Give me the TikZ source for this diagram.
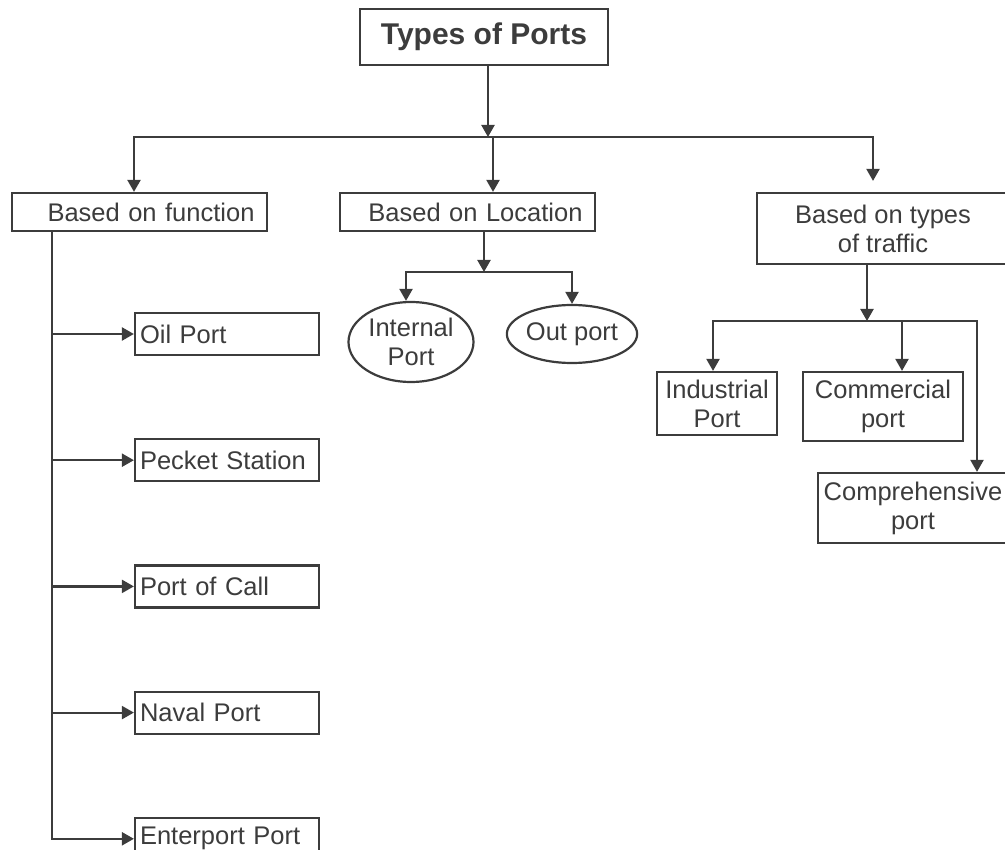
\documentclass[tikz,border=0pt]{standalone}
\usepackage{fontspec}
\setmainfont{Liberation Sans}
\usetikzlibrary{positioning,shapes.geometric,arrows.meta}
\definecolor{ink}{HTML}{3C3C3C}
\begin{document}
\begin{tikzpicture}[x=1pt, y=-1pt, line width=2.2pt, color=ink,
  main/.style = {draw, rectangle, inner sep=0pt, font=\fontsize{25.5}{29}\selectfont},
  head/.style = {main, text width=230pt, inner xsep=12.5pt, align=right, minimum height=38pt},
  two/.style = {main, align=center},
  oval/.style = {main, ellipse, align=center},
  leaf/.style = {main, text width=174pt, inner xsep=5pt, align=left, minimum height=42pt},
  arr/.style = {-{Triangle[width=13pt,length=12pt]}},
  node distance=82pt]
            \useasboundingbox (0,0) rectangle (1005,850);
            \node[main, minimum width=248pt, minimum height=56pt, font=\fontsize{30}{34}\selectfont\bfseries] (1) at (484,37) {Types of Ports};
            \node[head] (2) at (139.5,212) {Based on function};
            \node[head] (3) at (467.5,212) {Based on Location};
            \node[two, minimum width=252pt, minimum height=71pt] (4) at (883,228.5) {Based on types\\of traffic};
            \node[oval, minimum width=125pt, minimum height=80pt] (5) at (411,342) {Internal\\Port};
            \node[oval, minimum width=127pt, minimum height=58pt] (6) at (572,334) {Out port};
            \node[two, minimum width=120pt, minimum height=63pt] (7) at (717,403.5) {Industrial\\Port};
            \node[two, minimum width=160pt, minimum height=69pt] (8) at (883,406.5) {Commercial\\port};
            \node[two, minimum width=190pt, minimum height=70pt] (9) at (913,508) {Comprehensive\\port};
            \node[leaf] (10) at (227,334) {Oil Port};
            \node[leaf] (11) [below=of 10] {Pecket Station};
            \node[leaf] (12) [below=of 11] {Port of Call};
            \node[leaf] (13) [below=of 12] {Naval Port};
            \node[leaf] (14) [below=of 13] {Enterport Port};
            \coordinate (j1) at (488,137);
            \coordinate (j2) at (484,272);
            \coordinate (j3) at (867,321);
            \draw[arr] (1.south -| j1) -- (j1);
            \draw[arr] (j1) -| ([xshift=-5.5pt]2.north);
            \draw[arr] ([xshift=25.5pt]3.north |- j1) -- ([xshift=25.5pt]3.north);
            \draw[arr, shorten >=11pt] (j1) -| ([xshift=-10pt]4.north);
            \draw[arr] (3.south -| j2) -- (j2);
            \draw[arr] (j2) -| ([xshift=-5pt]5.north);
            \draw[arr] (j2) -| (6.north);
            \draw[arr] (4.south -| j3) -- (j3);
            \draw[arr] (j3) -| ([xshift=-4pt]7.north);
            \draw[arr] ([xshift=19pt]8.north |- j3) -- ([xshift=19pt]8.north);
            \draw[arr] (j3) -| ([xshift=64pt]9.north);
            \draw[arr] ([xshift=-87.5pt]2.south) |- (10.west);
            \draw[arr] ([xshift=-87.5pt]2.south) |- (11.west);
            \draw[arr] ([xshift=-87.5pt]2.south) |- (12.west);
            \draw[arr] ([xshift=-87.5pt]2.south) |- (13.west);
            \draw[arr] ([xshift=-87.5pt]2.south) |- (14.west);
        \end{tikzpicture}
\end{document}
